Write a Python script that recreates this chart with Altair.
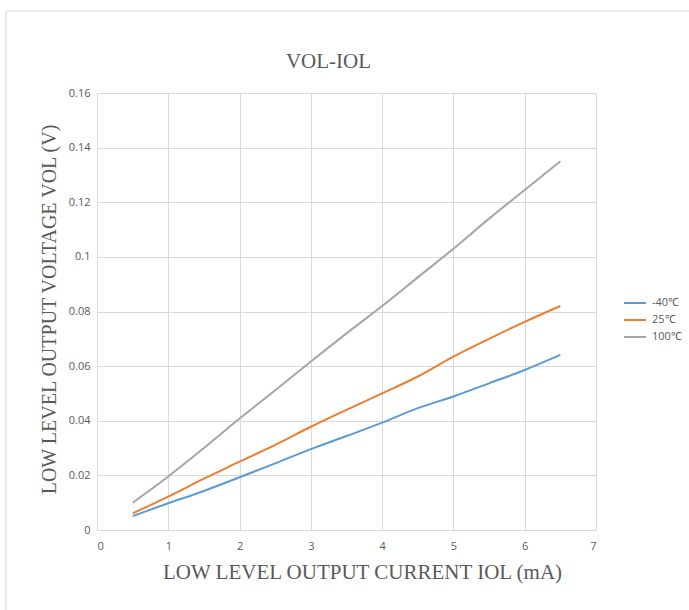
import altair as alt
import pandas as pd

current_ma = [0.5, 1.0, 1.5, 2.0, 2.5, 3.0, 3.5, 4.0, 4.5, 5.0, 5.5, 6.0, 6.5]
vol_m40 = [0.0051, 0.0098, 0.0143, 0.0193, 0.0244, 0.0296, 0.0344, 0.0393, 0.0446, 0.0489, 0.0537, 0.0586, 0.0641]
vol_25 = [0.0061, 0.0122, 0.0188, 0.0250, 0.0312, 0.0378, 0.0440, 0.0500, 0.0562, 0.0635, 0.0700, 0.0762, 0.0820]
vol_100 = [0.0100, 0.0196, 0.0300, 0.0408, 0.0512, 0.0617, 0.0720, 0.0820, 0.0925, 0.1030, 0.1140, 0.1245, 0.1350]
series_names = ["-40℃", "25℃", "100℃"]
series_colors = ["#5B9BD5", "#ED7D31", "#A5A5A5"]
x_ticks = [0, 1, 2, 3, 4, 5, 6, 7]
y_ticks = [0, 0.02, 0.04, 0.06, 0.08, 0.10, 0.12, 0.14, 0.16]

rows = []
for name, vals in zip(series_names, [vol_m40, vol_25, vol_100]):
    for x, v in zip(current_ma, vals):
        rows.append({"IOL": x, "VOL": v, "series": name})
df = pd.DataFrame(rows)

TXT = "#595959"
GRID = "#D9D9D9"

lines = alt.Chart(df).mark_line(strokeWidth=2, interpolate="monotone").encode(
    x=alt.X("IOL:Q",
            scale=alt.Scale(domain=[0, 7], nice=False, zero=True),
            axis=alt.Axis(values=x_ticks, title="LOW LEVEL OUTPUT CURRENT IOL (mA)",
                          grid=True, gridColor=GRID, domainColor=GRID, ticks=False,
                          labelPadding=10, labelFont="Open Sans", labelFontSize=11, labelColor=TXT,
                          titleFont="Liberation Serif", titleFontSize=21, titleFontWeight="normal",
                          titleColor=TXT, titleX=265, titleY=48, titleAlign="center",
                          titleBaseline="alphabetic")),
    y=alt.Y("VOL:Q",
            scale=alt.Scale(domain=[0, 0.16], nice=False),
            axis=alt.Axis(values=y_ticks, format=".2~f", title="LOW LEVEL OUTPUT VOLTAGE VOL (V)",
                          grid=True, gridColor=GRID, domainColor=GRID, ticks=False,
                          labelPadding=7, labelFont="Open Sans", labelFontSize=11, labelColor=TXT,
                          titleFont="Liberation Serif", titleFontSize=20, titleFontWeight="normal",
                          titleColor=TXT, titleX=-42, titleY=216, titleAngle=270, titleAlign="center",
                          titleBaseline="alphabetic")),
    color=alt.Color("series:N",
                    scale=alt.Scale(domain=series_names, range=series_colors),
                    sort=series_names,
                    legend=alt.Legend(title=None, orient="none", legendX=526, legendY=198,
                                      symbolType="stroke", symbolSize=484, symbolStrokeWidth=2,
                                      labelFont="Open Sans", labelFontSize=11, labelColor=TXT,
                                      rowPadding=0, labelOffset=5)),
)

border = alt.Chart(pd.DataFrame({"k": [0]})).mark_rule(color=GRID, strokeWidth=1).encode(
    x=alt.value(-91), x2=alt.value(600), y=alt.value(-82)
)
border2 = alt.Chart(pd.DataFrame({"k": [0]})).mark_rule(color=GRID, strokeWidth=1).encode(
    x=alt.value(-91), y=alt.value(-82), y2=alt.value(520)
)

chart = alt.layer(border, border2, lines).properties(
    width=499, height=437,
    autosize=alt.AutoSizeParams(type="none"),
    padding={"left": 97, "top": 93, "right": 93, "bottom": 80},
    title=alt.TitleParams("VOL-IOL", font="Liberation Serif", fontSize=21, fontWeight="normal",
                          color=TXT, anchor="middle", dx=-18, dy=82, offset=21),
    background="white",
).configure_view(stroke=None)

chart.save("out.html", embed_options={"renderer": "svg", "actions": False})
